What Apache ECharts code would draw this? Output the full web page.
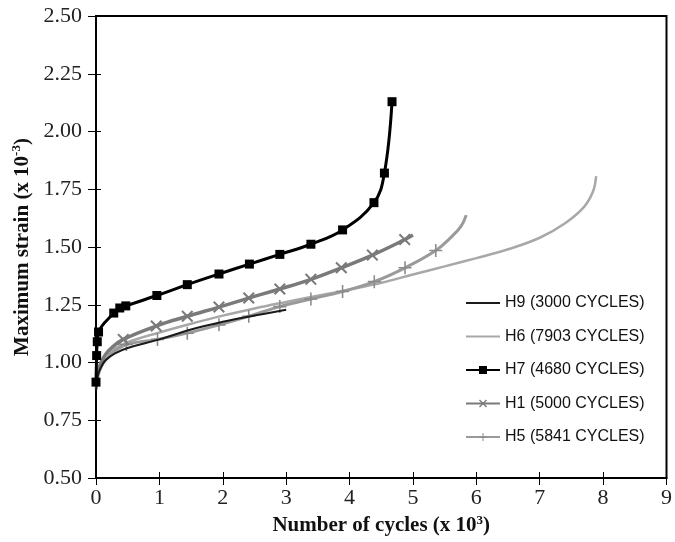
<!DOCTYPE html>
<html>
<head>
<meta charset="utf-8">
<script src="https://cdn.jsdelivr.net/npm/echarts@6/dist/echarts.min.js"></script>
<style>html,body{margin:0;padding:0;background:#fff}#c{width:675px;height:542px}</style>
</head>
<body>
<div id="c"></div>
<script>
// x in thousands of cycles, y = maximum strain (x 10^-3)
const xTicks = [0,1,2,3,4,5,6,7,8,9];
const yTicks = [0.50,0.75,1.00,1.25,1.50,1.75,2.00,2.25,2.50];

const seriesNames = ['H9 (3000 CYCLES)','H6 (7903 CYCLES)','H7 (4680 CYCLES)','H1 (5000 CYCLES)','H5 (5841 CYCLES)'];

const h9 = [[0,0.88],[0.03,0.945],[0.08,0.98],[0.15,1.01],[0.3,1.04],[0.5,1.063],[1.0,1.1],[1.5,1.143],[2.0,1.176],[2.5,1.203],[3.0,1.228]];

const h6 = [[0,0.9],[0.03,0.96],[0.08,1.0],[0.15,1.03],[0.3,1.06],[0.5,1.088],[1.0,1.13],[1.5,1.168],[2.0,1.203],[2.5,1.234],[3.0,1.262],[3.5,1.289],[4.0,1.316],[4.5,1.345],[5.0,1.381],[5.5,1.416],[6.0,1.452],[6.5,1.49],[7.0,1.54],[7.4,1.603],[7.7,1.674],[7.84,1.74],[7.89,1.807]];

const h7 = [[0,0.915],[0.01,1.03],[0.02,1.09],[0.04,1.132],[0.28,1.214],[0.375,1.236],[0.47,1.245],[0.96,1.29],[1.44,1.337],[1.94,1.383],[2.42,1.426],[2.9,1.468],[3.39,1.512],[3.89,1.574],[4.385,1.692],[4.55,1.82],[4.67,2.129]];

const h1Start = [[0,0.9],[0.03,0.96],[0.08,1.0],[0.15,1.035],[0.25,1.065]];
const h1Marked = [[0.43,1.10],[0.95,1.158],[1.44,1.20],[1.94,1.24],[2.41,1.279],[2.9,1.318],[3.39,1.36],[3.87,1.41],[4.36,1.465],[4.87,1.532]];
const h1End = [[5.0,1.552]];

const h5Start = [[0,0.88],[0.03,0.94],[0.08,0.98],[0.15,1.01],[0.25,1.04]];
const h5Marked = [[0.48,1.078],[0.97,1.1],[1.44,1.127],[1.94,1.163],[2.41,1.2],[2.9,1.242],[3.39,1.275],[3.89,1.307],[4.39,1.35],[4.875,1.41],[5.36,1.485]];
const h5End = [[5.6,1.542],[5.76,1.59],[5.84,1.638]];

function build(start, marked, end) {
  return start.map(p => ({value: p, symbol: 'none'}))
    .concat(marked.map(p => ({value: p})))
    .concat(end.map(p => ({value: p, symbol: 'none'})));
}

const xSym = 'path://M0,1.2 L1.2,0 L5,3.8 L8.8,0 L10,1.2 L6.2,5 L10,8.8 L8.8,10 L5,6.2 L1.2,10 L0,8.8 L3.8,5 Z';
const plusSym = 'path://M4.4,0 H5.6 V4.4 H10 V5.6 H5.6 V10 H4.4 V5.6 H0 V4.4 H4.4 Z';
const lineIcon = 'path://M0,4 H36 V6 H0 Z';

const serif = 'Liberation Serif';
const chart = echarts.init(document.getElementById('c'), null, {renderer: 'canvas'});

const baseX = {type: 'value', min: 0, max: 9, interval: 1};
const baseY = {type: 'value', min: 0.5, max: 2.5, interval: 0.25};

chart.setOption({
  animation: false,
  backgroundColor: '#fff',
  grid: {left: 96, right: 3, top: 16, bottom: 64, show: true, borderColor: '#000', borderWidth: 2, backgroundColor: 'transparent'},
  legend: {
    orient: 'vertical', left: 460, top: 290,
    itemWidth: 34, itemHeight: 10, itemGap: 17.5,
    textStyle: {fontFamily: 'Liberation Sans', fontSize: 16, color: '#111', lineHeight: 16},
    data: [
      {name: seriesNames[0], icon: lineIcon, itemStyle: {color: '#1a1a1a'}},
      {name: seriesNames[1], icon: lineIcon, itemStyle: {color: '#a8a8a8'}},
      seriesNames[2], seriesNames[3], seriesNames[4]
    ]
  },
  xAxis: [
    Object.assign({}, baseX, {
      position: 'bottom',
      axisLine: {lineStyle: {color: '#000', width: 2}},
      axisTick: {length: 7, lineStyle: {color: '#000', width: 1}},
      axisLabel: {fontFamily: serif, fontSize: 22, color: '#222', margin: 9, formatter: v => String(v)},
      splitLine: {show: false},
      name: '{a|Number of cycles (x 10}{s|3}{a|)}',
      nameLocation: 'middle', nameGap: 30,
      nameTextStyle: {rich: {
        a: {fontFamily: serif, fontWeight: 'bold', fontSize: 21, color: '#111', lineHeight: 24},
        s: {fontFamily: serif, fontWeight: 'bold', fontSize: 13, color: '#111', verticalAlign: 'top', lineHeight: 24, padding: [0,0,8,0]}
      }}
    }),
    Object.assign({}, baseX, {
      position: 'bottom',
      axisLine: {show: false},
      axisTick: {inside: true, length: 6, lineStyle: {color: '#000', width: 1}},
      axisLabel: {show: false}, splitLine: {show: false}
    })
  ],
  yAxis: [
    Object.assign({}, baseY, {
      position: 'left',
      axisLine: {lineStyle: {color: '#000', width: 2}},
      axisTick: {length: 8, lineStyle: {color: '#000', width: 1}},
      axisLabel: {fontFamily: serif, fontSize: 22, color: '#222', margin: 14, formatter: v => v.toFixed(2)},
      splitLine: {show: false},
      name: '{a|Maximum strain (x 10}{s|-3}{a|)}',
      nameLocation: 'middle', nameGap: 59, nameRotate: 90,
      nameTextStyle: {rich: {
        a: {fontFamily: serif, fontWeight: 'bold', fontSize: 21, color: '#111', lineHeight: 24},
        s: {fontFamily: serif, fontWeight: 'bold', fontSize: 13, color: '#111', verticalAlign: 'top', lineHeight: 24, padding: [0,0,8,0]}
      }}
    }),
    Object.assign({}, baseY, {
      position: 'left',
      axisLine: {show: false},
      axisTick: {inside: true, length: 5, lineStyle: {color: '#000', width: 1}},
      axisLabel: {show: false}, splitLine: {show: false}
    })
  ],
  series: [
    {name: seriesNames[0], type: 'line', smooth: 0.4, showSymbol: false, symbol: 'none',
     lineStyle: {color: '#1a1a1a', width: 2}, itemStyle: {color: '#1a1a1a'}, data: h9, z: 5},
    {name: seriesNames[1], type: 'line', smooth: 0.4, showSymbol: false, symbol: 'none',
     lineStyle: {color: '#a8a8a8', width: 2.5}, itemStyle: {color: '#a8a8a8'}, data: h6, z: 2},
    {name: seriesNames[2], type: 'line', smooth: 0.4, symbol: 'rect', symbolSize: 9,
     lineStyle: {color: '#000', width: 3}, itemStyle: {color: '#000'}, data: h7, z: 6},
    {name: seriesNames[3], type: 'line', smooth: 0.4, symbol: xSym, symbolSize: 12,
     lineStyle: {color: '#7a7a7a', width: 3.5}, itemStyle: {color: '#7a7a7a'}, data: build(h1Start, h1Marked, h1End), z: 4},
    {name: seriesNames[4], type: 'line', smooth: 0.4, symbol: plusSym, symbolSize: 13,
     lineStyle: {color: '#9a9a9a', width: 3}, itemStyle: {color: '#8a8a8a'}, data: build(h5Start, h5Marked, h5End), z: 3}
  ]
});
</script>
</body>
</html>
